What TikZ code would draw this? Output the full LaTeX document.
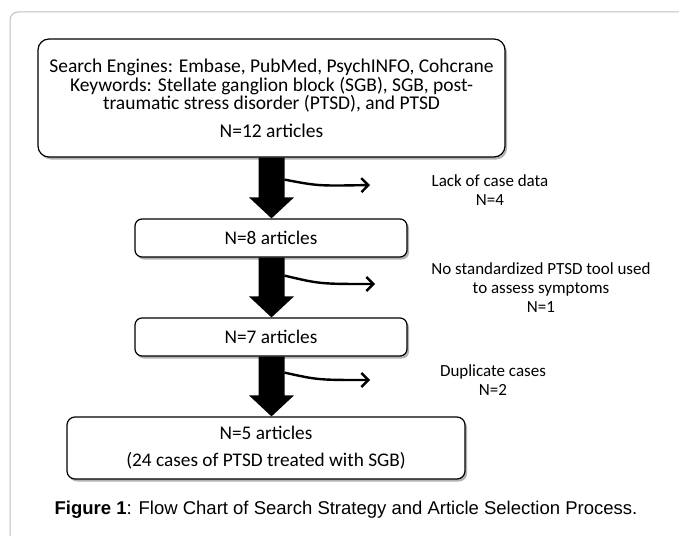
\documentclass[tikz,border=0pt]{standalone}
\usepackage{fontspec}
\setmainfont{Carlito}
\newfontfamily\capfont{Liberation Sans}
\usetikzlibrary{calc,arrows.meta,shadows}
\newcommand\bigarr[2]{\fill[black] ($(#1)+(-13,0)$) -- ($(#2)+(-13,-21)$) -- ($(#2)+(-22.5,-21)$) -- ($(#2)+(0,0)$) -- ($(#2)+(22.5,-21)$) -- ($(#2)+(13,-21)$) -- ($(#1)+(13,0)$) -- cycle;}
\begin{document}
\begin{tikzpicture}[x=1pt,y=-1pt,
  shadowed/.style={drop shadow={shadow xshift=2pt,shadow yshift=-2.5pt,opacity=0.3,fill=black}},
  boxbase/.style={draw=black,line width=1.2pt,fill=white,shadowed,align=center,inner sep=0pt,font=\fontsize{19.3}{27}\selectfont},
  bigbox/.style={boxbase,rounded corners=11pt,minimum width=467pt,minimum height=118pt,font=\fontsize{19.5}{18}\selectfont},
  smallbox/.style={boxbase,rounded corners=7pt,minimum width=272pt,minimum height=38pt},
  endbox/.style={boxbase,rounded corners=8pt,minimum width=398pt,minimum height=62pt},
  lbl/.style={align=center,inner sep=0pt,font=\fontsize{17}{19}\selectfont},
  side/.style={line width=2.4pt,-{Straight Barb[length=7pt,width=14pt]}},
  frame/.style={draw=black!25,line width=1pt,rounded corners=8pt}
]
\useasboundingbox (0,0) rectangle (679,535);
\fill[white] (0,0) rectangle (679,535);
\draw[frame] (690,12) -- (10,12) -- (10,545);

\node[bigbox] (top) at (271.5,98) {Search Engines: Embase, PubMed, PsychINFO, Cohcrane\\[1pt]
Keywords: Stellate ganglion block (SGB), SGB, post-\\traumatic stress disorder (PTSD), and PTSD\\[10pt]N=12 articles};
\node[smallbox] (b2) at (271,238) {N=8 articles};
\node[smallbox] (b3) at (271,337) {N=7 articles};
\node[endbox] (b4) at (266,448) {N=5 articles\\(24 cases of PTSD treated with SGB)};

\coordinate (c2) at (top.south |- b2.north);
\coordinate (b2s) at (top.south |- b2.south);
\coordinate (c3) at (top.south |- b3.north);
\coordinate (b3s) at (top.south |- b3.south);
\coordinate (c4) at (top.south |- b4.north);
\bigarr{top.south}{c2}
\bigarr{b2s}{c3}
\bigarr{b3s}{c4}

\coordinate (s1) at ($(top.south)+(13,22)$);
\coordinate (s2) at ($(b2s)+(13,18)$);
\coordinate (s3) at ($(b3s)+(13,16)$);
\coordinate (e1) at (370,185);
\coordinate (e2) at (375,284);
\coordinate (e3) at (370,380);
\draw[side] (s1) .. controls (318,186) .. (e1);
\draw[side] (s2) .. controls (320,284) .. (e2);
\draw[side] (s3) .. controls (318,380) .. (e3);

\node[lbl] (l1) at (490,190) {Lack of case data\\N=4};
\node[lbl] (l2) at (541,288) {No standardized PTSD tool used\\to assess symptoms\\N=1};
\node[lbl] (l3) at (493,380) {Duplicate cases\\N=2};

\node[inner sep=0pt,font=\capfont\fontsize{18.5}{20}\selectfont] (cap) at (346,510) {\textbf{Figure 1}: Flow Chart of Search Strategy and Article Selection Process.};
\end{tikzpicture}
\end{document}
